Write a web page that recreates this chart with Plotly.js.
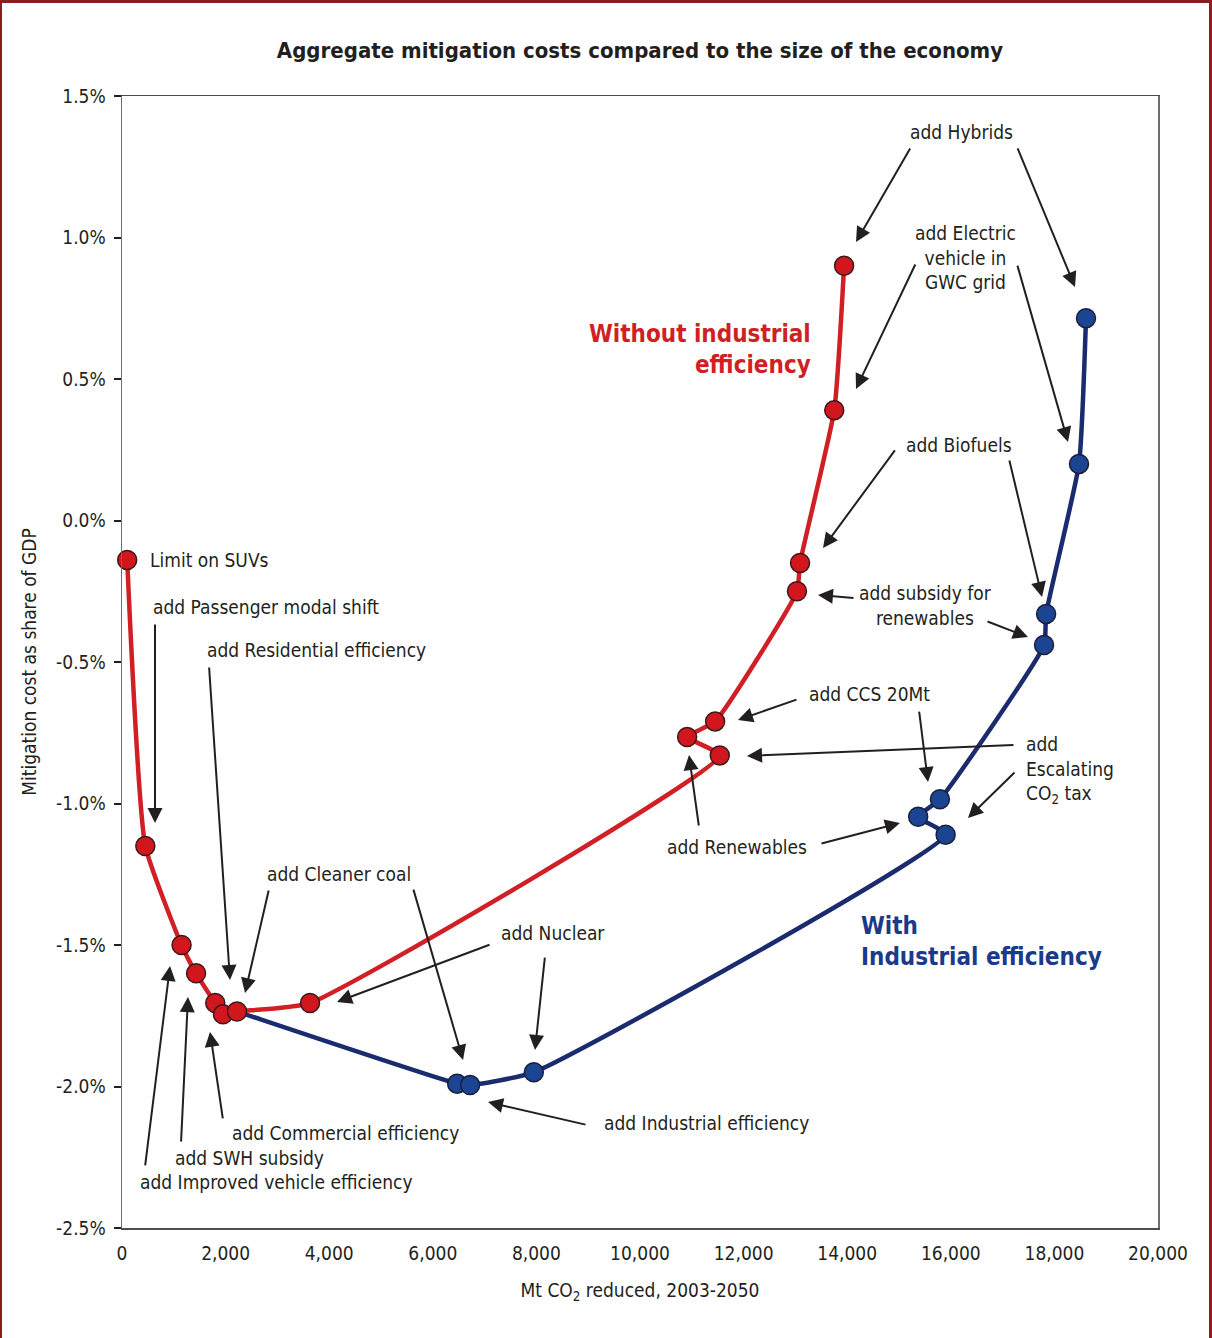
<!DOCTYPE html>
<html>
<head>
<meta charset="utf-8">
<script src="https://cdn.plot.ly/plotly-3.0.1.min.js"></script>
<style>
  html, body { margin: 0; padding: 0; background: #fff; }
  #wrap { position: relative; width: 1212px; height: 1338px; }
  #chart { width: 1212px; height: 1338px; }
  #frame { position: absolute; left: 0; top: 0; width: 1212px; height: 1338px; box-sizing: border-box;
           border-top: 3px solid #8c1c20; border-left: 2px solid #8c1c20; border-right: 3px solid #8c1c20;
           pointer-events: none; }
</style>
</head>
<body>
<div id="wrap"><div id="chart"></div><div id="frame"></div></div>
<script>
// ---- Data (Mt CO2 reduced, cost as % of GDP) ----
const redX = [100, 450, 1150, 1430, 1800, 1950, 2220, 3630, 11540, 10910, 11450, 13030, 13090, 13750, 13940];
const redY = [-0.14, -1.15, -1.50, -1.60, -1.705, -1.745, -1.735, -1.705, -0.83, -0.765, -0.71, -0.25, -0.15, 0.39, 0.90];

// blue line branches off the red "Cleaner coal" point (first entry has no marker)
const blueX = [2220, 6470, 6720, 7950, 15900, 15370, 15790, 17800, 17840, 18475, 18610];
const blueY = [-1.735, -1.99, -1.995, -1.95, -1.11, -1.047, -0.985, -0.44, -0.33, 0.20, 0.715];

const xTickVals = [0, 2000, 4000, 6000, 8000, 10000, 12000, 14000, 16000, 18000, 20000];
const xTickText = ['0', '2,000', '4,000', '6,000', '8,000', '10,000', '12,000', '14,000', '16,000', '18,000', '20,000'];
const yTickVals = [1.5, 1.0, 0.5, 0.0, -0.5, -1.0, -1.5, -2.0, -2.5];
const yTickText = ['1.5%', '1.0%', '0.5%', '0.0%', '-0.5%', '-1.0%', '-1.5%', '-2.0%', '-2.5%'];

// ---- Styling ----
const FONT = '"Liberation Sans Narrow", "DejaVu Sans Condensed", "Arial Narrow", sans-serif';
const INK = '#231f20';
const RED = '#d11f26';
const BLUE = '#1a2c6e';
const BLUE_FILL = '#1b4592';

const traces = [
  { x: blueX, y: blueY, type: 'scatter', mode: 'lines', cliponaxis: false,
    line: { color: BLUE, width: 4.5, shape: 'spline', smoothing: 0.45 }, hoverinfo: 'skip' },
  { x: blueX.slice(1), y: blueY.slice(1), type: 'scatter', mode: 'markers', cliponaxis: false,
    marker: { size: 19, color: BLUE_FILL, line: { color: '#1a1f3a', width: 1.5 } } },
  { x: redX, y: redY, type: 'scatter', mode: 'lines+markers', cliponaxis: false,
    line: { color: RED, width: 4.5, shape: 'spline', smoothing: 0.45 },
    marker: { size: 19, color: '#d2161e', line: { color: '#3a1a1a', width: 1.5 } } }
];

// text labels
const labels = [
  { t: 'Limit on SUVs', x: 502, y: -0.140, xa: 'left' },
  { t: 'add Passenger modal shift', x: 560, y: -0.306, xa: 'left' },
  { t: 'add Residential efficiency', x: 1602, y: -0.458, xa: 'left' },
  { t: 'add Cleaner coal', x: 2761, y: -1.249, xa: 'left' },
  { t: 'add Nuclear', x: 7278, y: -1.458, xa: 'left' },
  { t: 'add Industrial efficiency', x: 9266, y: -2.129, xa: 'left' },
  { t: 'add Commercial efficiency', x: 2085, y: -2.164, xa: 'left' },
  { t: 'add SWH subsidy', x: 985, y: -2.253, xa: 'left' },
  { t: 'add Improved vehicle efficiency', x: 309, y: -2.337, xa: 'left' },
  { t: 'add Renewables', x: 10483, y: -1.154, xa: 'left' },
  { t: 'add CCS 20Mt', x: 13224, y: -0.613, xa: 'left' },
  { t: 'add<br>Escalating<br>CO<sub>2</sub> tax', x: 17413, y: -0.882, xa: 'left' },
  { t: 'add subsidy for<br>renewables', x: 15502, y: -0.302, xa: 'center' },
  { t: 'add Biofuels', x: 15097, y: 0.267, xa: 'left' },
  { t: 'add Electric<br>vehicle in<br>GWC grid', x: 16293, y: 0.931, xa: 'center' },
  { t: 'add Hybrids', x: 16216, y: 1.373, xa: 'center' }
];

// arrows: tail (tx,ty) -> head (hx,hy)
const arrows = [
  [637, -0.362, 637, -1.069],
  [1680, -0.514, 2085, -1.624],
  [2838, -1.302, 2375, -1.670],
  [5618, -1.299, 6583, -1.906],
  [7124, -1.497, 4151, -1.701],
  [8166, -1.539, 7973, -1.871],
  [8977, -2.136, 7066, -2.055],
  [1950, -2.118, 1699, -1.807],
  [1139, -2.200, 1274, -1.684],
  [444, -2.284, 927, -1.574],
  [11139, -1.083, 10946, -0.829],
  [13475, -1.143, 15019, -1.069],
  [13050, -0.631, 11892, -0.705],
  [15386, -0.670, 15560, -0.924],
  [17239, -0.793, 12066, -0.832],
  [17259, -0.885, 16332, -1.051],
  [14151, -0.274, 13436, -0.263],
  [16680, -0.355, 17490, -0.412],
  [14942, 0.253, 13533, -0.097],
  [17124, 0.217, 17761, -0.270],
  [15328, 0.910, 14170, 0.465],
  [17278, 0.906, 18263, 0.277],
  [15232, 1.320, 14170, 0.984],
  [17278, 1.320, 18398, 0.825]
];

const annotations = [];
labels.forEach(l => annotations.push({
  text: l.t, x: l.x, y: l.y, xref: 'x', yref: 'y', xanchor: l.xa, yanchor: 'middle',
  align: l.xa === 'center' ? 'center' : 'left', showarrow: false,
  font: { family: FONT, size: 19, color: INK }
}));
arrows.forEach(a => annotations.push({
  text: '', x: a[2], y: a[3], ax: a[0], ay: a[1], xref: 'x', yref: 'y', axref: 'x', ayref: 'y',
  showarrow: true, arrowhead: 2, arrowsize: 1.5, arrowwidth: 2, arrowcolor: INK, standoff: 0, startstandoff: 0
}));
annotations.push({
  text: 'Without industrial<br>efficiency', x: 13340, y: 0.604, xref: 'x', yref: 'y',
  xanchor: 'right', yanchor: 'middle', align: 'right', showarrow: false,
  font: { family: FONT, size: 24, color: RED, weight: 'bold' }
});
annotations.push({
  text: 'With<br>Industrial efficiency', x: 14228, y: -1.489, xref: 'x', yref: 'y',
  xanchor: 'left', yanchor: 'middle', align: 'left', showarrow: false,
  font: { family: FONT, size: 24, color: '#1a3a8a', weight: 'bold' }
});

const layout = {
  width: 1212, height: 1338,
  margin: { l: 122, r: 54, t: 96, b: 110 },
  paper_bgcolor: '#fff', plot_bgcolor: '#fff',
  showlegend: false,
  font: { family: FONT, color: INK, size: 18 },
  title: {
    text: 'Aggregate mitigation costs compared to the size of the economy',
    font: { family: FONT, size: 22, color: INK, weight: 'bold' },
    x: 0.5, xref: 'paper', xanchor: 'center', y: 1 - 50 / 1338, yref: 'container', yanchor: 'middle'
  },
  xaxis: {
    range: [0, 20000], tickvals: xTickVals, ticktext: xTickText, ticks: '', ticklabelstandoff: 8,
    showgrid: false, zeroline: false, showline: true, linecolor: '#4d4d4f', linewidth: 1.5, mirror: true,
    tickfont: { family: FONT, size: 19, color: INK },
    title: { text: 'Mt CO<sub>2</sub> reduced, 2003-2050', font: { family: FONT, size: 19, color: INK }, standoff: 20 }
  },
  xaxis2: {
    overlaying: 'x', matches: 'x', range: [0, 20000], anchor: 'free', position: 0.625, side: 'bottom',
    tickvals: xTickVals, showticklabels: false, ticks: 'outside', ticklen: 8, tickwidth: 2, tickcolor: INK,
    showgrid: false, zeroline: false, showline: true, linecolor: INK, linewidth: 2
  },
  yaxis: {
    range: [-2.5, 1.5], tickvals: yTickVals, ticktext: yTickText, ticks: 'outside', ticklen: 7, tickwidth: 2,
    tickcolor: INK, ticklabelstandoff: 4,
    showgrid: false, zeroline: false, showline: true, linecolor: '#6d6e71', linewidth: 1.5, mirror: true,
    tickfont: { family: FONT, size: 19, color: INK },
    title: { text: 'Mitigation cost as share of GDP', font: { family: FONT, size: 19, color: INK }, standoff: 14 }
  },
  annotations: annotations
};

Plotly.newPlot('chart', traces, layout, { displayModeBar: false, staticPlot: true });
</script>
</body>
</html>
